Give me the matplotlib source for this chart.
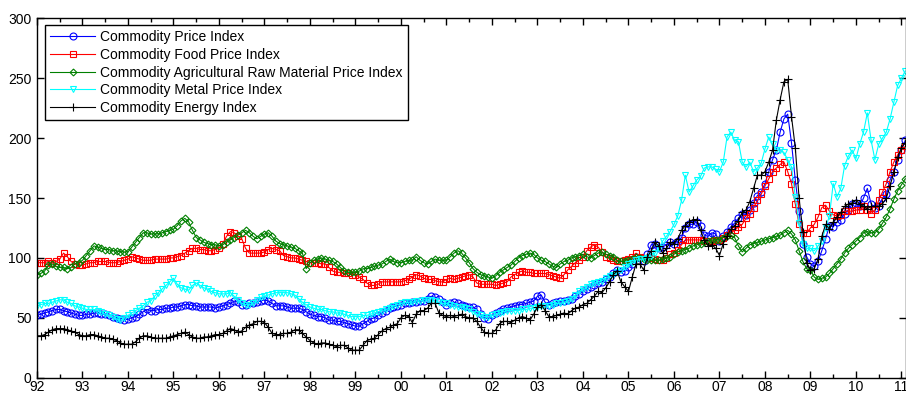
import numpy as np
import matplotlib
matplotlib.use('Agg')
import matplotlib.pyplot as plt

plt.rcParams['font.family'] = ['Liberation Sans', 'DejaVu Sans']

# monthly index values, Jan 1992 .. Feb 2011 (2005 = 100)
start_year = 1992

price = [
    52, 53, 54, 55, 56, 57, 57, 56, 55, 54, 53, 52,
    52, 53, 53, 54, 54, 53, 53, 52, 51, 50, 49, 48,
    49, 50, 51, 53, 55, 57, 56, 56, 57, 57, 58, 58,
    59, 59, 60, 61, 61, 60, 60, 59, 59, 59, 59, 58,
    59, 60, 61, 62, 64, 63, 61, 61, 62, 62, 63, 64,
    65, 64, 62, 60, 60, 60, 59, 58, 58, 58, 57, 55,
    53, 52, 51, 51, 50, 48, 48, 47, 47, 46, 45, 44,
    43, 43, 45, 47, 49, 50, 52, 54, 56, 58, 59, 60,
    61, 62, 62, 63, 63, 64, 64, 66, 68, 67, 66, 63,
    61, 62, 63, 62, 61, 60, 59, 59, 57, 53, 50, 49,
    52, 54, 56, 57, 58, 59, 60, 61, 61, 62, 63, 64,
    68, 69, 63, 61, 62, 63, 64, 64, 65, 66, 68, 70,
    72, 74, 76, 77, 79, 80, 82, 84, 87, 90, 88, 89,
    92, 95, 101, 100, 97, 103, 111, 112, 108, 109, 111, 113,
    112, 114, 117, 125, 128, 128, 130, 127, 119, 118, 121, 120,
    114, 118, 122, 126, 129, 133, 137, 136, 140, 146, 152, 155,
    162, 172, 182, 190, 205, 216, 220, 196, 165, 139, 112, 101,
    95, 93, 97, 106, 116, 127, 126, 130, 132, 137, 140, 145,
    146, 143, 150, 158, 145, 142, 143, 150, 153, 165, 172, 182,
    190, 198]

food = [
    96, 96, 96, 97, 96, 97, 99, 104, 101, 97, 95, 94,
    94, 95, 96, 96, 97, 97, 97, 96, 96, 96, 97, 98,
    99, 101, 100, 99, 98, 98, 98, 99, 99, 99, 99, 100,
    100, 101, 102, 104, 106, 108, 108, 107, 107, 106, 106, 107,
    108, 112, 118, 122, 121, 118, 116, 108, 104, 104, 104, 104,
    105, 107, 108, 107, 106, 102, 101, 100, 100, 99, 98, 97,
    96, 96, 96, 95, 95, 92, 89, 88, 88, 87, 87, 86,
    86, 84, 82, 79, 77, 77, 78, 80, 80, 80, 80, 80,
    80, 81, 82, 84, 86, 85, 83, 82, 82, 81, 80, 80,
    82, 83, 82, 83, 84, 85, 86, 84, 79, 78, 78, 78,
    78, 77, 78, 79, 80, 84, 86, 88, 89, 88, 88, 87,
    87, 87, 87, 86, 85, 84, 83, 86, 90, 93, 96, 98,
    101, 106, 109, 111, 109, 105, 101, 100, 98, 97, 97, 98,
    99, 101, 104, 101, 100, 100, 100, 99, 98, 98, 100, 103,
    104, 107, 111, 115, 115, 115, 115, 115, 114, 114, 114, 115,
    115, 117, 119, 121, 123, 126, 128, 133, 137, 142, 148, 153,
    160, 166, 172, 175, 178, 180, 172, 162, 145, 128, 121, 121,
    125, 128, 134, 142, 144, 139, 136, 135, 136, 139, 139, 139,
    140, 140, 143, 140, 137, 140, 148, 155, 162, 172, 180, 186,
    190, 193]

agri = [
    86, 87, 89, 94, 95, 93, 92, 92, 91, 92, 95, 96,
    98, 102, 106, 110, 109, 108, 107, 107, 106, 106, 105, 105,
    105, 109, 113, 117, 121, 121, 120, 120, 120, 121, 122, 123,
    124, 127, 131, 133, 130, 123, 117, 115, 113, 112, 111, 111,
    110, 111, 113, 115, 117, 119, 121, 123, 121, 118, 116, 118,
    120, 121, 118, 114, 112, 111, 110, 109, 108, 106, 104, 91,
    96, 98, 99, 100, 99, 98, 97, 95, 92, 89, 88, 88,
    88, 89, 91, 91, 92, 93, 94, 95, 97, 99, 97, 96,
    96, 97, 98, 98, 101, 98, 96, 95, 97, 99, 98, 98,
    98, 101, 104, 106, 104, 100, 96, 91, 88, 86, 85, 84,
    83, 85, 88, 90, 92, 94, 97, 100, 102, 103, 104, 103,
    100, 98, 97, 95, 93, 92, 95, 97, 98, 100, 101, 102,
    103, 101, 100, 102, 104, 105, 103, 102, 101, 98, 97, 97,
    98, 99, 101, 100, 99, 98, 98, 98, 98, 99, 100, 101,
    103, 105, 106, 107, 108, 110, 111, 112, 113, 114, 115, 115,
    115, 117, 118, 119, 117, 110, 105, 108, 111, 112, 113, 114,
    115, 116, 117, 118, 119, 121, 123, 120, 115, 106, 97, 91,
    90, 84, 82, 83, 84, 87, 91, 95, 99, 104, 108, 111,
    114, 117, 121, 122, 121, 121, 124, 129, 134, 141, 149, 156,
    161, 166]

metal = [
    60, 61, 62, 62, 63, 64, 65, 65, 63, 62, 60, 59,
    58, 57, 57, 57, 56, 55, 53, 52, 51, 49, 48, 50,
    52, 54, 56, 58, 60, 63, 64, 68, 71, 74, 77, 80,
    83, 78, 75, 74, 73, 77, 79, 77, 75, 74, 72, 71,
    70, 70, 70, 71, 68, 65, 62, 61, 61, 62, 65, 67,
    68, 69, 70, 71, 71, 71, 71, 70, 69, 66, 63, 61,
    59, 58, 57, 57, 56, 55, 55, 54, 54, 53, 52, 51,
    51, 51, 52, 52, 53, 54, 55, 56, 57, 58, 60, 61,
    62, 63, 63, 63, 64, 64, 65, 65, 65, 64, 63, 62,
    62, 61, 60, 59, 59, 58, 57, 55, 53, 52, 51, 51,
    52, 53, 54, 55, 56, 56, 56, 56, 57, 57, 58, 58,
    59, 60, 60, 60, 61, 62, 62, 63, 64, 66, 69, 72,
    74, 76, 78, 79, 80, 81, 83, 85, 86, 88, 90, 92,
    95, 96, 98, 99, 99, 100, 102, 104, 108, 114, 118, 122,
    128, 135, 148, 169, 155, 160, 165, 168, 175, 176, 176, 174,
    172, 180, 201, 205, 198, 197, 180, 176, 180, 172, 175, 179,
    191, 201, 195, 190, 190, 188, 182, 176, 151, 129, 112, 108,
    108, 106, 110, 114, 125, 135, 162, 151, 158, 177, 185, 190,
    183, 195, 205, 221, 198, 182, 195, 200, 205, 216, 230, 244,
    250, 256]

energy = [
    35, 35, 36, 38, 40, 41, 41, 41, 40, 39, 38, 36,
    35, 35, 36, 36, 35, 34, 33, 33, 32, 31, 29, 28,
    28, 28, 30, 33, 35, 35, 34, 33, 33, 33, 33, 34,
    35, 36, 37, 38, 36, 34, 33, 33, 34, 34, 35, 36,
    36, 37, 39, 41, 40, 38, 39, 42, 44, 45, 47, 47,
    46, 42, 37, 36, 36, 37, 37, 38, 40, 40, 37, 34,
    31, 29, 28, 29, 29, 28, 27, 26, 27, 27, 25, 23,
    23, 23, 27, 31, 32, 33, 36, 39, 41, 42, 44, 45,
    50, 52, 51, 46, 53, 56, 56, 58, 62, 62, 54, 52,
    51, 52, 51, 52, 53, 51, 50, 50, 47, 42, 38, 37,
    37, 40, 45, 47, 47, 46, 48, 50, 51, 50, 48, 53,
    59, 61, 56, 51, 51, 52, 53, 54, 53, 56, 58, 59,
    61, 62, 65, 68, 72, 71, 75, 80, 86, 89, 80, 76,
    72, 84, 95, 95, 90, 101, 106, 113, 110, 104, 108, 113,
    112, 116, 123, 127, 130, 132, 132, 123, 115, 110, 111, 108,
    102, 112, 118, 124, 127, 131, 138, 140, 147, 158, 169, 169,
    172, 180, 190, 215, 232, 247, 249, 218, 192, 150, 122, 96,
    90, 91, 99, 118, 128, 124, 130, 134, 138, 143, 145, 146,
    148, 145, 143, 141, 143, 143, 143, 145, 150, 160, 172, 184,
    192, 196]

year_labels = ['92', '93', '94', '95', '96', '97', '98', '99', '00', '01',
               '02', '03', '04', '05', '06', '07', '08', '09', '10', '11']

series = [
    ('Commodity Price Index', price, 'blue', 'o', 5),
    ('Commodity Food Price Index', food, 'red', 's', 5),
    ('Commodity Agricultural Raw Material Price Index', agri, (0, 0.5, 0), 'D', 3.5),
    ('Commodity Metal Price Index', metal, 'cyan', 'v', 5),
    ('Commodity Energy Index', energy, 'black', '+', 6),
]

fig = plt.figure(figsize=(9.06, 3.94), dpi=100)
ax = fig.add_axes([37 / 906, 16.3 / 394, 869 / 906, 359.4 / 394])

t = start_year + np.arange(len(price)) / 12.0
for name, vals, col, mk, ms in series:
    ax.plot(t, vals, color=col, lw=0.8, marker=mk, ms=ms, mfc='none',
            mec=col, mew=0.8, label=name)

ax.set_xlim(start_year, 2011.1)
ax.set_ylim(0, 300)
ax.set_xticks(np.arange(start_year, start_year + len(year_labels)))
ax.set_xticklabels(year_labels)
ax.set_xticks(np.arange(start_year + 0.5, 2011.1, 1), minor=True)
ax.set_yticks(range(0, 301, 50))
ax.tick_params(which='both', direction='in', top=True, right=True,
               labelsize=10, width=1)
ax.tick_params(which='major', length=5)
ax.tick_params(which='minor', length=3)
ax.tick_params(axis='x', pad=1.5)
ax.tick_params(axis='y', pad=4)
for s in ax.spines.values():
    s.set_linewidth(1.0)

leg = ax.legend(loc='upper left', bbox_to_anchor=(0.009, 0.982),
                borderaxespad=0, fancybox=False, edgecolor='black',
                framealpha=1, fontsize=10, handlelength=3.2,
                labelspacing=0.26, borderpad=0.4, handletextpad=0.4)
leg.get_frame().set_linewidth(1.0)

fig.savefig('out.png', dpi=100)
